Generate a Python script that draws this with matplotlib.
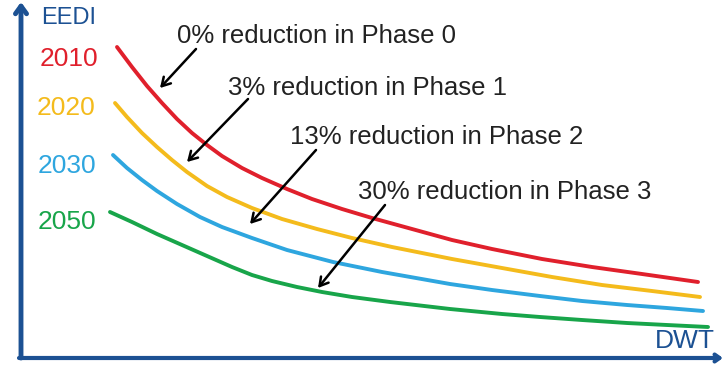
import matplotlib
matplotlib.use("Agg")
import matplotlib.pyplot as plt

plt.rcParams['font.family'] = ['Liberation Sans', 'DejaVu Sans']

# Schematic EEDI reference lines against ship size (arbitrary units)
dwt_2010 = [95, 110, 125, 140, 155, 170, 185, 200, 220, 240, 265, 290, 320,
            350, 390, 430, 470, 520, 570, 620, 676]
eedi_2010 = [310, 290, 271, 254, 238, 224, 212, 201, 189, 179, 168, 158, 148,
             139, 128, 117, 108, 98, 90, 83, 75]

dwt_2020 = [93, 105, 120, 135, 150, 165, 185, 205, 230, 260, 295, 330, 370,
            430, 480, 530, 580, 630, 678]
eedi_2020 = [254, 240, 224, 210, 197, 185, 171, 160, 149, 138, 128, 119, 110,
             98, 89, 80, 72, 66, 60]

dwt_2030 = [91, 105, 120, 135, 155, 178, 200, 230, 265, 311, 360, 428, 470,
            518, 560, 605, 645, 681]
eedi_2030 = [202, 189, 177, 166, 153, 140, 130, 119, 107, 95, 85, 73, 67,
             61, 56, 52, 49, 46]

dwt_2050 = [88, 110, 135, 160, 185, 210, 230, 250, 275, 300, 330, 368, 428,
            480, 518, 560, 605, 645, 686]
eedi_2050 = [145, 135, 123, 112, 101, 90, 82, 76, 70, 65, 60, 55, 48,
             43, 40, 37, 34, 32, 30]

years = ["2010", "2020", "2030", "2050"]
reductions = [0, 3, 13, 30]
phases = [0, 1, 2, 3]
colors = ["#e0202c", "#f4bb1c", "#2ea6df", "#18a54a"]
series = [(dwt_2010, eedi_2010), (dwt_2020, eedi_2020),
          (dwt_2030, eedi_2030), (dwt_2050, eedi_2050)]

axis_blue = "#1c5193"

fig = plt.figure(figsize=(7.24, 3.66), dpi=100)
ax = fig.add_axes([0, 0, 1, 1])
ax.set_xlim(-22, 702)
ax.set_ylim(-9, 357)
ax.axis("off")

for (x, y), c in zip(series, colors):
    ax.plot(x, y, color=c, lw=2.8, solid_capstyle="round", solid_joinstyle="round")

# Year labels next to each curve
year_pos = [(18, 298), (15, 249), (16, 191), (16, 135)]
for label, (lx, ly), c in zip(years, year_pos, colors):
    ax.text(lx, ly, label, color=c, fontsize=19, ha="left", va="center")

# Phase annotations with arrows pointing to the curves
text_pos = [(155, 321), (206, 269), (268, 220), (336, 165)]
arrow_tail = [(174, 308), (226, 258), (294, 207), (363, 152)]
arrow_tip = [(138, 269), (165, 195), (228, 133), (296, 69)]
for r, p, tp, tail, tip in zip(reductions, phases, text_pos, arrow_tail, arrow_tip):
    ax.text(tp[0], tp[1], f"{r}% reduction in Phase {p}", fontsize=18.5,
            color="#222222", ha="left", va="center")
    ax.annotate("", xy=tip, xytext=tail,
                arrowprops=dict(arrowstyle="->,head_length=0.6,head_width=0.35",
                                lw=1.8, color="black", shrinkA=0, shrinkB=0))

# Axes drawn as arrows
ax.annotate("", xy=(-1, 355), xytext=(-1, -1),
            arrowprops=dict(arrowstyle="->,head_length=0.55,head_width=0.4",
                            lw=3.5, color=axis_blue, shrinkA=0, shrinkB=0))
ax.annotate("", xy=(701, -1), xytext=(-3, -1),
            arrowprops=dict(arrowstyle="->,head_length=0.35,head_width=0.25",
                            lw=3.0, color=axis_blue, shrinkA=0, shrinkB=0))

ax.text(19, 339, "EEDI", color=axis_blue, fontsize=17, ha="left", va="center")
ax.text(693, 16, "DWT", color=axis_blue, fontsize=19, ha="right", va="center")

fig.savefig("out.png", dpi=100)
